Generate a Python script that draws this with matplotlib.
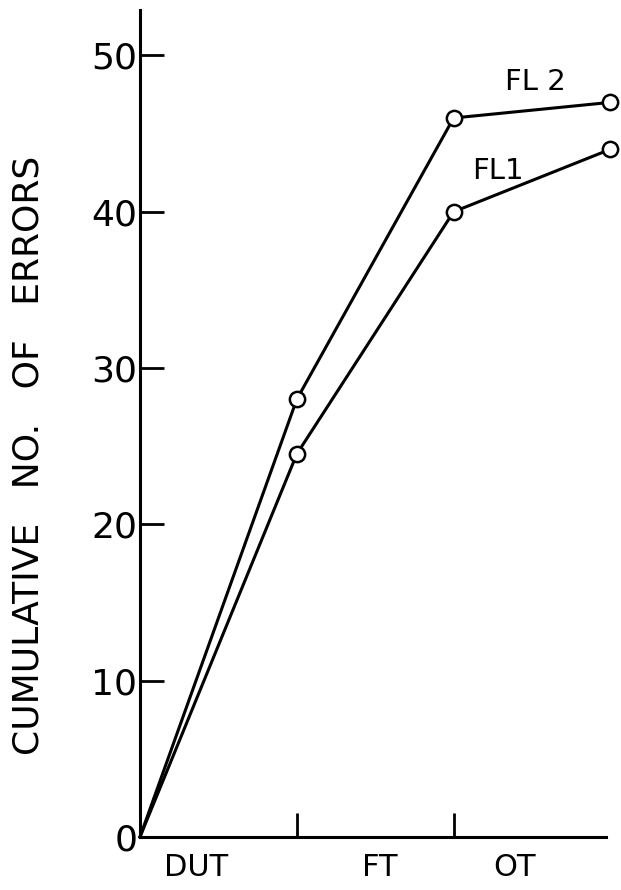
from matplotlib import pyplot as plt

# Dane
stages = [0, 1, 2, 3]
fl1_errors = [0, 24.5, 40, 44]
fl2_errors = [0, 28, 46, 47]
phase_labels = ['DUT', 'FT', 'OT']
phase_pos = [0.36, 1.53, 2.39]
y_ticks = [0, 10, 20, 30, 40, 50]

plt.rcParams['font.family'] = ['DejaVu Sans']

fig = plt.figure(figsize=(6.21, 8.9), dpi=100)
ax = fig.add_axes([0.2254, 0.0596, 0.750, 0.929])

# w punkcie zerowym nie ma kółka
for vals in (fl2_errors, fl1_errors):
    ax.plot(stages, vals, color='black', linewidth=2.2,
            marker='o', markersize=11, markerfacecolor='white',
            markeredgecolor='black', markeredgewidth=1.8, clip_on=False,
            markevery=[1, 2, 3], zorder=3)

ax.text(2.52, 48.3, 'FL 2', fontsize=21, ha='center', va='center')
ax.text(2.28, 42.6, 'FL1', fontsize=21, ha='center', va='center')

ax.set_xlim(0, 2.97)
ax.set_ylim(0, 52.9)

ax.spines['top'].set_visible(False)
ax.spines['right'].set_visible(False)
ax.spines['left'].set_linewidth(2.2)
ax.spines['bottom'].set_linewidth(2.2)

ax.set_yticks(y_ticks)
ax.set_yticklabels([str(v) for v in y_ticks], fontsize=26)
ax.tick_params(axis='y', direction='in', length=17, width=2, pad=2)

ax.set_xticks([1, 2])
ax.set_xticklabels(['', ''])
ax.tick_params(axis='x', direction='in', length=17, width=2)

for lab, pos in zip(phase_labels, phase_pos):
    ax.text(pos, -1.0, lab, fontsize=22, ha='center', va='top')

fig.text(29 / 621, 0.488, 'CUMULATIVE   NO.   OF   ERRORS', fontsize=26,
         rotation=90, ha='center', va='center')

fig.savefig('out.png', dpi=100)
